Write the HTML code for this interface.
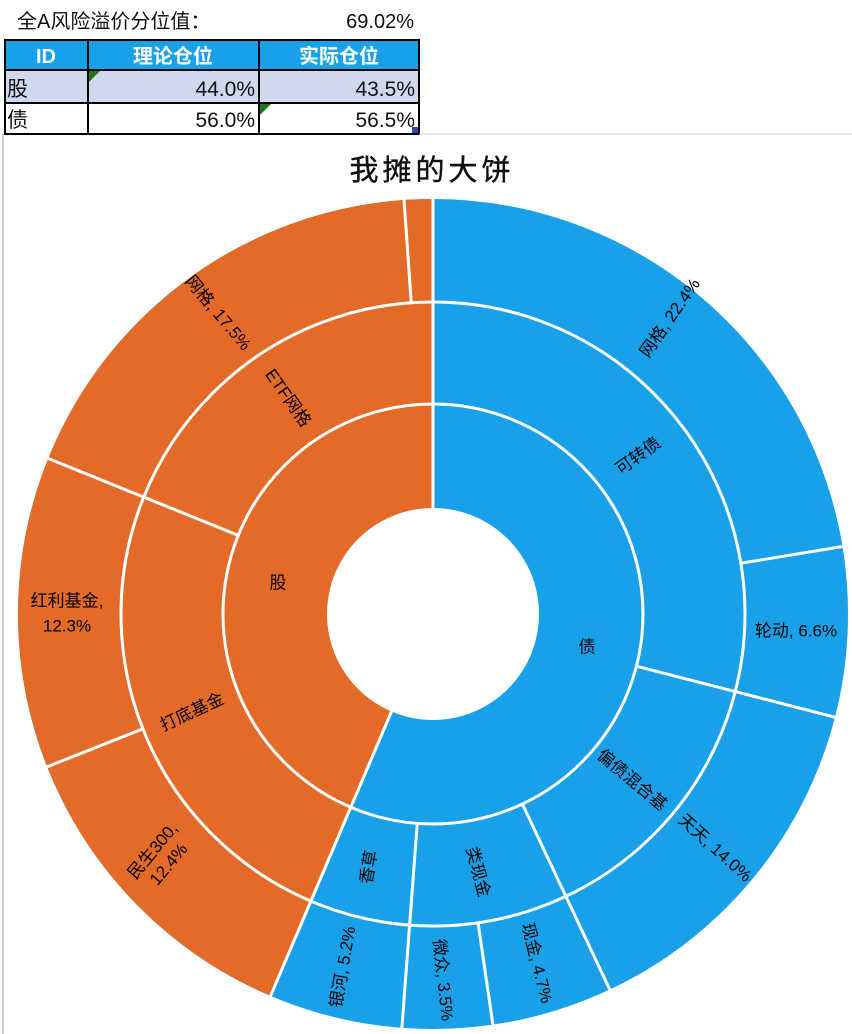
<!DOCTYPE html>
<html><head><meta charset="utf-8"><style>
body{margin:0;background:#fff;}
svg{display:block;font-family:"Liberation Sans","Noto Sans CJK SC",sans-serif;}
</style></head><body>
<svg width="852" height="1034" viewBox="0 0 852 1034" xmlns="http://www.w3.org/2000/svg">
<text x="17" y="28" font-size="20" fill="#111">全A风险溢价分位值：</text>
<text x="414" y="28" font-size="20" fill="#111" text-anchor="end">69.02%</text>
<rect x="5" y="40" width="414" height="30" fill="#18A0E9"/>
<rect x="5" y="70" width="414" height="33" fill="#D0D8EE"/>
<g stroke="#000" stroke-width="2" fill="none">
<rect x="5" y="40" width="414" height="94"/>
<line x1="5" y1="70" x2="419" y2="70"/>
<line x1="5" y1="103" x2="419" y2="103"/>
<line x1="88" y1="40" x2="88" y2="134"/>
<line x1="259" y1="40" x2="259" y2="134"/>
</g>
<g font-size="20" font-weight="bold" fill="#fff" text-anchor="middle">
<text x="46" y="63">ID</text><text x="173" y="63">理论仓位</text><text x="339" y="63">实际仓位</text>
</g>
<g font-size="21" fill="#111">
<text x="7" y="96">股</text><text x="7" y="127">债</text>
<text x="255" y="96" text-anchor="end">44.0%</text>
<text x="415" y="96" text-anchor="end">43.5%</text>
<text x="255" y="127" text-anchor="end">56.0%</text>
<text x="415" y="127" text-anchor="end">56.5%</text>
</g>
<polygon points="89,71 100,71 89,82" fill="#1a7a1a"/>
<polygon points="260,104 271,104 260,115" fill="#1a7a1a"/>
<rect x="412" y="127" width="6" height="6" fill="#3344aa"/>
<line x1="3" y1="134" x2="3" y2="1034" stroke="#999" stroke-width="1"/>
<line x1="419" y1="134" x2="852" y2="134" stroke="#ccc" stroke-width="1"/>
<text x="432" y="180" font-size="29" text-anchor="middle" letter-spacing="4" fill="#111" stroke="#111" stroke-width="0.4">我摊的大饼</text>
<g transform="translate(433,614)">
<circle r="260" fill="none" stroke="#18A0E9" stroke-width="310"/>
<circle r="260" fill="none" stroke="#E46A27" stroke-width="310" transform="rotate(-90)" stroke-dasharray="712.3 2000" stroke-dashoffset="-921.4"/>
<circle r="106" fill="#fff"/>
<circle r="210" fill="none" stroke="#fff" stroke-width="3"/>
<circle r="312" fill="none" stroke="#fff" stroke-width="3"/>
<g stroke="#fff" stroke-width="3">
<line x1="0" y1="-104" x2="0" y2="-416"/>
<line x1="0" y1="-104" x2="0" y2="-416" transform="rotate(203.04)"/>
<line x1="0" y1="-210" x2="0" y2="-416" transform="rotate(104.4)"/>
<line x1="0" y1="-210" x2="0" y2="-416" transform="rotate(154.8)"/>
<line x1="0" y1="-210" x2="0" y2="-416" transform="rotate(184.3)"/>
<line x1="0" y1="-210" x2="0" y2="-416" transform="rotate(292)"/>
<line x1="0" y1="-312" x2="0" y2="-416" transform="rotate(80.64)"/>
<line x1="0" y1="-312" x2="0" y2="-416" transform="rotate(171.7)"/>
<line x1="0" y1="-312" x2="0" y2="-416" transform="rotate(248.4)"/>
<line x1="0" y1="-312" x2="0" y2="-416" transform="rotate(356)"/>
</g>
</g>
<g font-size="17" fill="#000" text-anchor="middle" dominant-baseline="central">
<text transform="translate(670,318) rotate(-55)">网格, 22.4%</text>
<text transform="translate(638,456) rotate(-36)">可转债</text>
<text x="796" y="631">轮动, 6.6%</text>
<text x="587" y="647">债</text>
<text transform="translate(632,780) rotate(40)">偏债混合基</text>
<text transform="translate(715,848) rotate(42)">天天, 14.0%</text>
<text transform="translate(478,872) rotate(75)">类现金</text>
<text transform="translate(369,867) rotate(-80)">香草</text>
<text transform="translate(343,967) rotate(-80)">银河, 5.2%</text>
<text transform="translate(443,980) rotate(84)">微众, 3.5%</text>
<text transform="translate(537,963) rotate(76)">现金, 4.7%</text>
<text transform="translate(160,857) rotate(-50)"><tspan x="0" dy="-10">民生300,</tspan><tspan x="0" dy="21">12.4%</tspan></text>
<text transform="translate(192,712) rotate(-25)">打底基金</text>
<text x="67" y="601">红利基金,</text>
<text x="67" y="626">12.3%</text>
<text x="278" y="583">股</text>
<text transform="translate(288,398) rotate(55)">ETF网格</text>
<text transform="translate(218,313) rotate(50)">网格, 17.5%</text>
</g>
</svg>
</body></html>
